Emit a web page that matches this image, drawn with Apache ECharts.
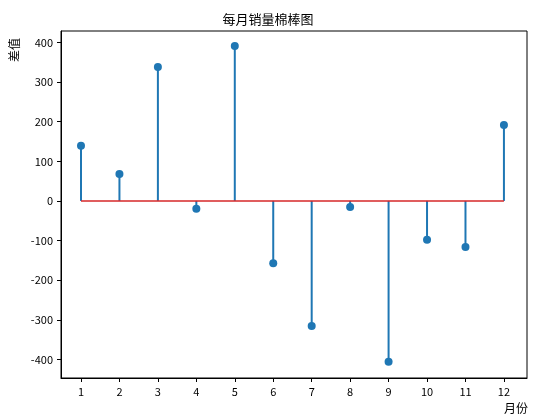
<!DOCTYPE html>
<html>
<head>
<meta charset="utf-8">
<script src="https://cdn.jsdelivr.net/npm/echarts@6/dist/echarts.min.js"></script>
<style>body{margin:0}#c{width:536px;height:420px}</style>
</head>
<body>
<div id="c"></div>
<script>
const months = [1, 2, 3, 4, 5, 6, 7, 8, 9, 10, 11, 12];
const diffs = [139, 68, 338, -20, 391, -157, -316, -15, -406, -98, -116, 192];
const yTicks = [-400, -300, -200, -100, 0, 100, 200, 300, 400];

const chart = echarts.init(document.getElementById('c'));
const font = 'SimHei, "Noto Sans CJK SC", "DejaVu Sans", sans-serif';
const pts = months.map((m, i) => [m, diffs[i]]);

chart.setOption({
    animation: false,
    textStyle: { fontFamily: font },
    title: {
        text: '每月销量棉棒图', left: 'center', top: 8,
        textStyle: { fontSize: 13, fontWeight: 'normal', color: '#000', fontFamily: font }
    },
    grid: { left: 61, right: 9, top: 31, bottom: 42, show: true, borderColor: '#000', borderWidth: 1 },
    xAxis: {
        type: 'value', min: 0.48, max: 12.6,
        splitLine: { show: false },
        axisLine: { onZero: false, lineStyle: { color: '#000' } },
        axisTick: { customValues: months, length: 4, lineStyle: { color: '#000' } },
        axisLabel: { customValues: months, color: '#000', fontSize: 11 }
    },
    yAxis: {
        type: 'value', min: -447, max: 429,
        splitLine: { show: false },
        axisLine: { show: true, onZero: false, lineStyle: { color: '#000' } },
        axisTick: { show: true, customValues: yTicks, length: 4, lineStyle: { color: '#000' } },
        axisLabel: { customValues: yTicks, color: '#000', fontSize: 11 }
    },
    graphic: [
        { type: 'text', left: 8, top: 38, rotation: Math.PI / 2,
          style: { text: '差值', fill: '#000', font: '12px ' + font } },
        { type: 'text', right: 8, bottom: 6,
          style: { text: '月份', fill: '#000', font: '12px ' + font } }
    ],
    series: [
        {
            type: 'bar', data: pts, barWidth: 2,
            itemStyle: { color: '#1f77b4' }
        },
        {
            type: 'line', data: [[1, 0], [12, 0]], symbol: 'none',
            lineStyle: { color: '#d62728', width: 1.5 }, z: 3
        },
        {
            type: 'scatter', data: pts, symbolSize: 8,
            itemStyle: { color: '#1f77b4', opacity: 1 }, z: 4
        }
    ]
});
</script>
</body>
</html>
